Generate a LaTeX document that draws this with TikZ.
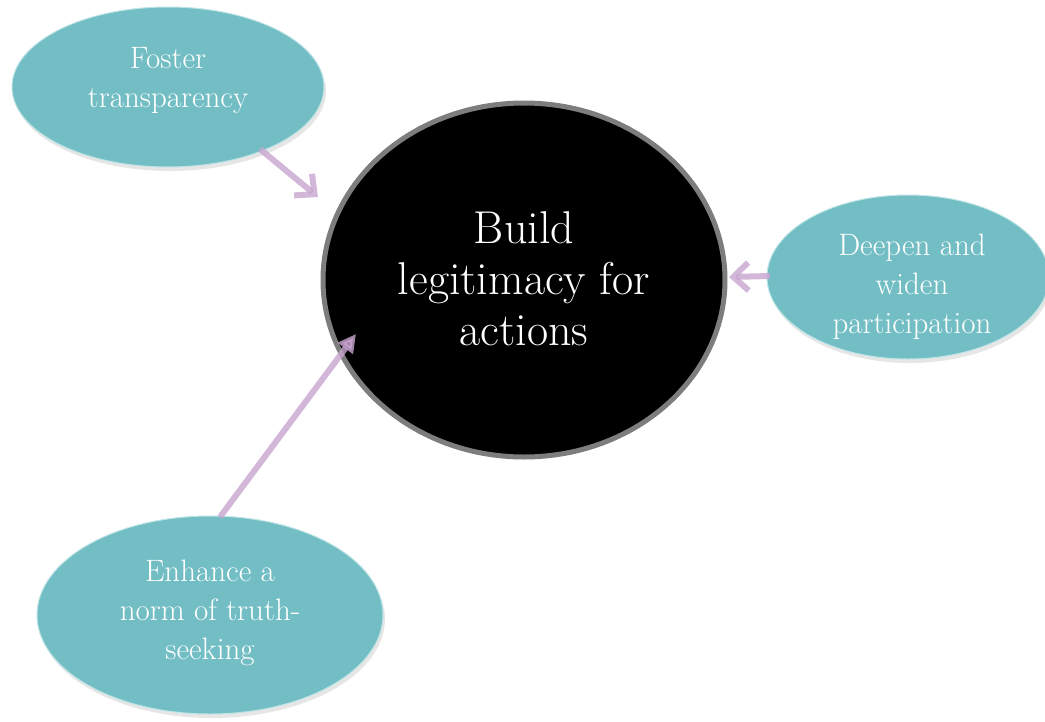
\documentclass[tikz,border=0pt]{standalone}
\usetikzlibrary{arrows.meta,shapes.geometric,shadows}
\definecolor{tealfill}{RGB}{114,190,196}
\definecolor{tealedge}{RGB}{190,228,230}
\definecolor{arrowpurple}{RGB}{200,165,208}
\definecolor{ringgray}{RGB}{125,125,125}
\tikzset{
  bubble/.style={ellipse, fill=tealfill, draw=tealedge, line width=1pt, inner sep=0pt,
    drop shadow={opacity=0.2, shadow xshift=2pt, shadow yshift=-4pt}},
  hub/.style={ellipse, fill=black, draw=ringgray, line width=5pt, inner sep=0pt},
  bubbletext/.style={text=white, align=center, font=\fontsize{31}{39}\selectfont},
  hubtext/.style={text=white, align=center, font=\fontsize{46}{51}\selectfont},
  link/.style={draw=arrowpurple, opacity=0.8, line width=6pt},
}
\begin{document}
\begin{tikzpicture}[x=1pt,y=-1pt]
\useasboundingbox (0,0) rectangle (1045,721);
\node[hub, minimum width=402pt, minimum height=354pt] (hub) at (524,280) {};
\node[hubtext] (hubT) at (524,279) {Build\\legitimacy for\\actions};

\node[bubble, minimum width=312pt, minimum height=160pt] (foster) at (168,87) {};
\node[bubbletext] (fosterT) at (168,81) {Foster\\transparency};

\node[bubble, minimum width=282pt, minimum height=164pt] (deepen) at (908,277) {};
\node[bubbletext] (deepenT) at (912,287) {Deepen and\\widen\\participation};

\node[bubble, minimum width=346pt, minimum height=198pt] (enhance) at (210,615) {};
\node[bubbletext] (enhanceT) at (210,613) {Enhance a\\norm of truth-\\seeking};

\coordinate (fs) at (260,149);
\coordinate (fe) at (318,197);
\coordinate (ds) at (770,276);
\coordinate (de) at (729,277);
\coordinate (es) at (220,517);
\coordinate (ee) at (356,334);

\draw[link, -{Straight Barb[length=15pt,width=28pt,line width=6pt]}] (fs) -- (fe);
\draw[link, -{Straight Barb[length=15pt,width=28pt,line width=6pt]}] (ds) -- (de);
\draw[link, -{Triangle[length=18pt,width=18pt]}] (es) -- (ee);
\end{tikzpicture}
\end{document}
